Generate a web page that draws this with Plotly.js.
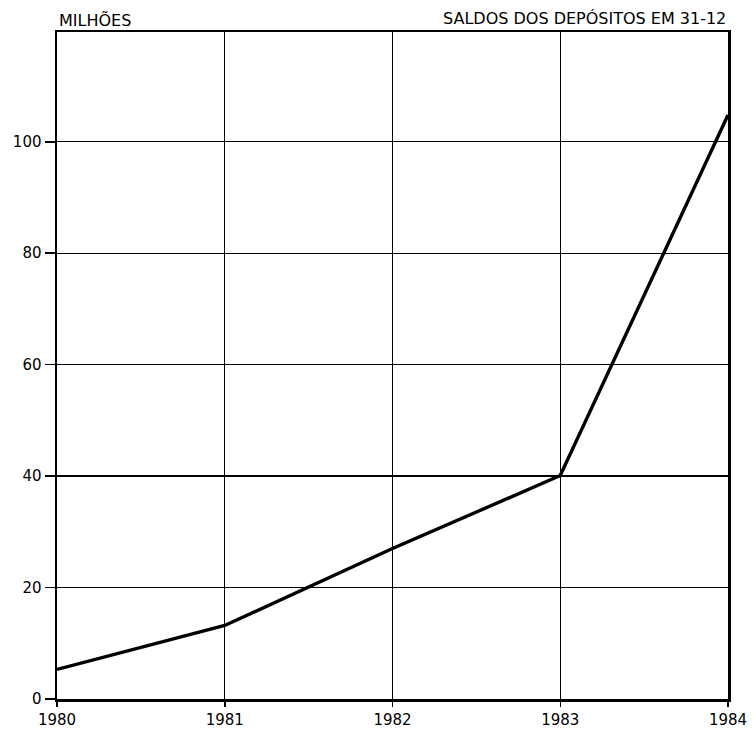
<!DOCTYPE html>
<html>
<head>
<meta charset="utf-8">
<script src="https://cdn.plot.ly/plotly-3.0.1.min.js"></script>
<style>html,body{margin:0;padding:0;background:#fff;}#chart{width:755px;height:734px;}</style>
</head>
<body>
<div id="chart"></div>
<script>
const years = [1980, 1981, 1982, 1983, 1984];
const saldos = [5.3, 13.2, 27, 40.1, 104.8];
const yTicks = [0, 20, 40, 60, 80, 100];
const unitLabel = 'MILHÕES';
const chartTitle = 'SALDOS DOS DEPÓSITOS EM 31-12';

const fontFam = 'DejaVu Sans, sans-serif';

Plotly.newPlot('chart', [{
  x: years,
  y: saldos,
  type: 'scatter',
  mode: 'lines',
  line: {color: '#000', width: 3.4},
  hoverinfo: 'skip',
  showlegend: false
}], {
  width: 755,
  height: 734,
  margin: {l: 57, r: 27, t: 32, b: 35},
  paper_bgcolor: '#fff',
  plot_bgcolor: '#fff',
  xaxis: {
    range: [1980, 1984],
    tickvals: years,
    ticktext: years.map(String),
    showgrid: true,
    gridcolor: '#000',
    gridwidth: 1.3,
    zeroline: false,
    showline: true,
    linecolor: '#000',
    linewidth: 2.5,
    mirror: true,
    ticks: 'outside',
    ticklen: 5,
    tickwidth: 1.5,
    tickcolor: '#000',
    tickfont: {family: fontFam, size: 15, color: '#000'},
    fixedrange: true
  },
  yaxis: {
    range: [0, 119.7],
    tickvals: yTicks,
    ticktext: yTicks.map(String),
    showgrid: true,
    gridcolor: '#000',
    gridwidth: 1.3,
    zeroline: false,
    showline: true,
    linecolor: '#000',
    linewidth: 2.5,
    mirror: true,
    ticks: 'outside',
    ticklen: 10,
    tickwidth: 1.5,
    tickcolor: '#000',
    tickfont: {family: fontFam, size: 15, color: '#000'},
    fixedrange: true
  },
  annotations: [
    {text: unitLabel, xref: 'paper', yref: 'paper', x: 0, y: 1, xanchor: 'left', yanchor: 'bottom', yshift: 0, showarrow: false, font: {family: fontFam, size: 16, color: '#000'}},
    {text: chartTitle, xref: 'paper', yref: 'paper', x: 1, y: 1, xanchor: 'right', yanchor: 'bottom', yshift: 2, showarrow: false, font: {family: fontFam, size: 16, color: '#000'}}
  ]
}, {displayModeBar: false, staticPlot: true});
</script>
</body>
</html>
